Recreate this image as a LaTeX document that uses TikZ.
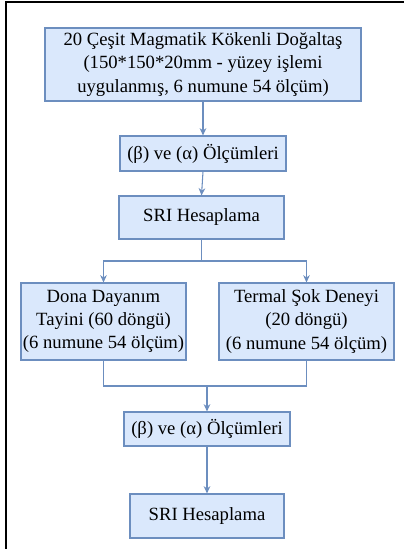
\documentclass[tikz,border=0pt]{standalone}
\usepackage{fontspec}
\setmainfont{Liberation Serif}
\newfontfamily\boxfont{Liberation Serif}
\usetikzlibrary{arrows.meta}
\definecolor{boxfill}{HTML}{DAE8FC}
\definecolor{boxline}{HTML}{6C8EBF}
\begin{document}
\begin{tikzpicture}[x=0.75pt,y=-0.75pt,
  box/.style={draw=boxline,fill=boxfill,line width=0.8pt,inner sep=0pt,align=center,
    font=\boxfont\fontsize{14}{17.5}\selectfont},
  arr/.style={draw=boxline,line width=0.8pt,-{Stealth[length=5.5pt,width=5pt]}},
  ln/.style={draw=boxline,line width=0.8pt}]
\useasboundingbox (0,0) rectangle (404,549);
\draw[line width=1.6pt] (6,549) -- (6,2) -- (404,2);
\node[box,minimum width=237pt,minimum height=54.75pt] (b1) at (203,64.5)
  {20 Çeşit Magmatik Kökenli Doğaltaş\\(150*150*20mm - yüzey işlemi\\uygulanmış, 6 numune 54 ölçüm)};
\node[box,minimum width=124.5pt,minimum height=26.25pt] (b2) at (203,153.5)
  {(β) ve (α) Ölçümleri};
\node[box,minimum width=123.75pt,minimum height=32.25pt] (b3) at (201.5,217.5)
  {SRI Hesaplama};
\node[box,minimum width=123.75pt,minimum height=57.75pt] (b4) at (103.5,321.5)
  {Dona Dayanım\\Tayini (60 döngü)\\(6 numune 54 ölçüm)};
\node[box,minimum width=131.25pt,minimum height=57.75pt] (b5) at (306.5,321.5)
  {Termal Şok Deneyi\\(20 döngü)\\(6 numune 54 ölçüm)};
\node[box,minimum width=124.5pt,minimum height=25.5pt] (b6) at (207,429)
  {(β) ve (α) Ölçümleri};
\node[box,minimum width=115.5pt,minimum height=33pt] (b7) at (207,516)
  {SRI Hesaplama};
\coordinate (j1) at (201.5,261);
\coordinate (j2) at (207,386);
\draw[arr] (b1.south) -- (b2.north);
\draw[arr] (b2.south) -- (b3.north);
\draw[ln] (b3.south) -- (j1);
\draw[arr] (j1) -| (b4.north);
\draw[arr] (j1) -| (b5.north);
\draw[ln] (b4.south) |- (j2);
\draw[ln] (b5.south) |- (j2);
\draw[arr] (j2) -- (b6.north);
\draw[arr] (b6.south) -- (b7.north);
\end{tikzpicture}
\end{document}
